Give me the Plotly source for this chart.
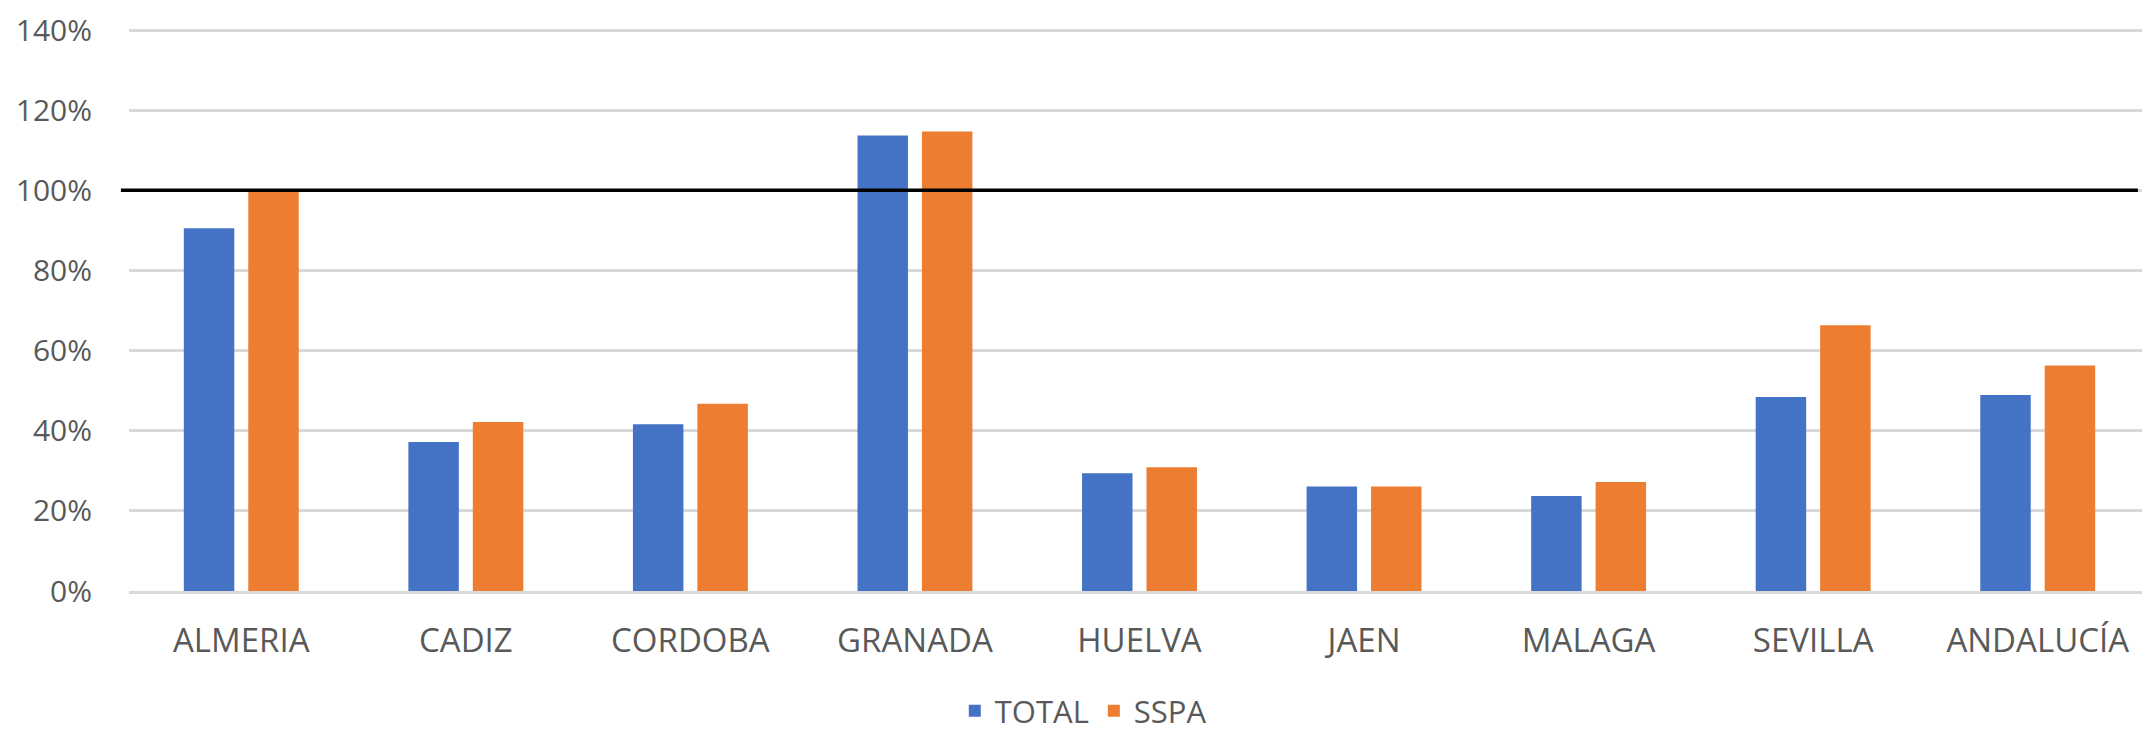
import plotly.graph_objects as go

categories = ["ALMERIA", "CADIZ", "CORDOBA", "GRANADA", "HUELVA", "JAEN", "MALAGA", "SEVILLA", "ANDALUCÍA"]
total = [0.905, 0.372, 0.416, 1.137, 0.294, 0.261, 0.237, 0.484, 0.489]
sspa = [0.999, 0.422, 0.467, 1.147, 0.309, 0.261, 0.272, 0.663, 0.563]
series_names = ["TOTAL", "SSPA"]
y_ticks = [0, 0.2, 0.4, 0.6, 0.8, 1.0, 1.2, 1.4]
reference_level = 1.0

font_color = "#595959"
font_family = "Open Sans"

fig = go.Figure()
fig.add_trace(go.Bar(name=series_names[0], x=categories, y=total, marker_color="#4472C4",
                     marker_line_width=0))
fig.add_trace(go.Bar(name=series_names[1], x=categories, y=sspa, marker_color="#ED7D31",
                     marker_line_width=0))

fig.add_shape(type="line", xref="paper", yref="y", x0=-0.004, x1=0.994,
              y0=reference_level, y1=reference_level,
              line=dict(color="black", width=3.5), layer="above")

fig.update_layout(
    width=2142, height=727,
    margin=dict(l=121, r=0, t=18, b=144),
    paper_bgcolor="white", plot_bgcolor="white",
    barmode="group", bargap=0.426, bargroupgap=0.217,
    font=dict(family=font_family, color=font_color, size=30),
    legend=dict(orientation="h", xref="container", yref="container",
                x=0.502, xanchor="center", y=0.033, yanchor="middle",
                font=dict(size=31, color=font_color), itemwidth=30,
                traceorder="normal"),
    showlegend=True,
)
fig.update_yaxes(range=[0, 1.41], tickvals=y_ticks, tickformat=".0%",
                 showgrid=True, gridcolor="#D9D9D9", gridwidth=2.5,
                 zeroline=False, showline=False, automargin=False,
                 ticklabeloverflow="allow",
                 ticks="outside", ticklen=30, tickcolor="rgba(0,0,0,0)",
                 tickfont=dict(size=30, color=font_color))
fig.update_xaxes(showgrid=False, showline=True, linecolor="#D9D9D9", linewidth=2.5,
                 automargin=False,
                 ticks="outside", ticklen=19, tickcolor="rgba(0,0,0,0)",
                 tickfont=dict(size=33, color=font_color))

fig.write_html("out.html")
